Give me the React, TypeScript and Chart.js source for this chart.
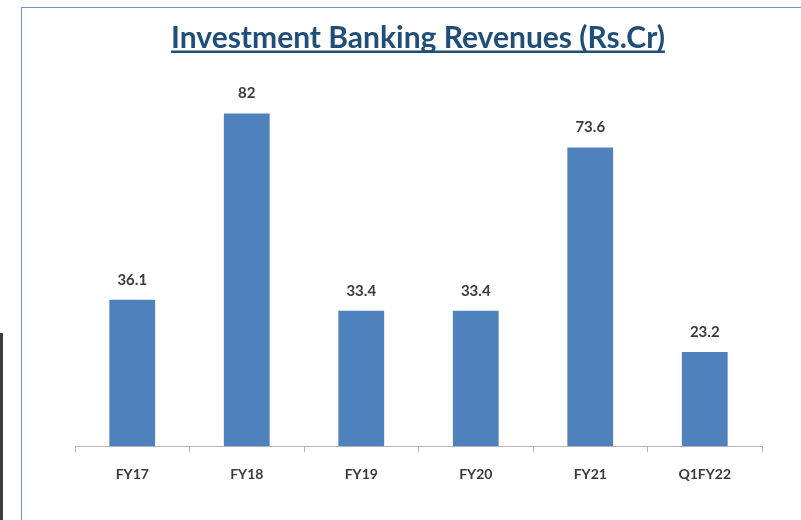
import React, { useEffect, useRef } from "react";
import { Chart, registerables } from "chart.js";

Chart.register(...registerables);

const categories = ["FY17", "FY18", "FY19", "FY20", "FY21", "Q1FY22"];
const revenues = [36.1, 82, 33.4, 33.4, 73.6, 23.2];
const titleText = "Investment Banking Revenues (Rs.Cr)";

const FONT = "Lato, 'Open Sans', sans-serif";

const titlePlugin = {
  id: "underlinedTitle",
  afterDraw(chart: any) {
    const ctx = chart.ctx;
    ctx.save();
    ctx.font = `bold 30px ${FONT}`;
    ctx.fillStyle = "#1f4e79";
    ctx.textAlign = "center";
    ctx.textBaseline = "alphabetic";
    const cx = 418;
    const by = 48;
    ctx.fillText(titleText, cx, by);
    const w = ctx.measureText(titleText).width;
    ctx.fillRect(cx - w / 2, by + 2.5, w, 2.5);
    ctx.restore();
  },
};

const valueLabelPlugin = {
  id: "valueLabels",
  afterDatasetsDraw(chart: any) {
    const ctx = chart.ctx;
    const meta = chart.getDatasetMeta(0);
    ctx.save();
    ctx.font = `bold 15px ${FONT}`;
    ctx.fillStyle = "#3a3a3a";
    ctx.textAlign = "center";
    ctx.textBaseline = "middle";
    meta.data.forEach((bar: any, i: number) => {
      ctx.fillText(String(revenues[i]), bar.x, bar.y - 20);
    });
    ctx.restore();
  },
};

export default function App() {
  const ref = useRef<HTMLCanvasElement>(null);
  useEffect(() => {
    if (!ref.current) return;
    const chart = new Chart(ref.current, {
      type: "bar",
      data: {
        labels: categories,
        datasets: [
          {
            data: revenues,
            backgroundColor: "#4f81bd",
            borderWidth: 0,
            barPercentage: 0.4,
            categoryPercentage: 1,
          },
        ],
      },
      options: {
        animation: false,
        responsive: false,
        maintainAspectRatio: false,
        layout: { padding: { left: 75, right: 39, top: 81, bottom: 23 } },
        plugins: {
          legend: { display: false },
          tooltip: { enabled: false },
          title: { display: false },
        },
        scales: {
          y: { display: false, min: 0, max: 90 },
          x: {
            offset: true,
            grid: {
              display: true,
              drawOnChartArea: false,
              drawTicks: true,
              tickLength: 6,
              offset: true,
              color: "#b5b5b5",
            },
            border: { display: true, color: "#b5b5b5", width: 1 },
            ticks: {
              color: "#3a3a3a",
              font: { family: FONT, size: 14, weight: "bold" },
              padding: 14,
              maxRotation: 0,
            },
          },
        },
      },
      plugins: [titlePlugin, valueLabelPlugin],
    });
    return () => chart.destroy();
  }, []);

  return (
    <div
      style={{
        position: "fixed",
        left: 0,
        top: 0,
        width: 801,
        height: 520,
        overflow: "hidden",
        background: "#ffffff",
      }}
    >
      <div
        style={{
          position: "absolute",
          left: 21,
          top: 7,
          width: 900,
          height: 700,
          border: "1px solid #7094d0",
        }}
      />
      <div
        style={{
          position: "absolute",
          left: 0,
          top: 333,
          width: 3,
          height: 200,
          background: "#3c3c3c",
        }}
      />
      <canvas
        ref={ref}
        width={801}
        height={520}
        style={{ position: "absolute", left: 0, top: 0, width: 801, height: 520 }}
      />
    </div>
  );
}
